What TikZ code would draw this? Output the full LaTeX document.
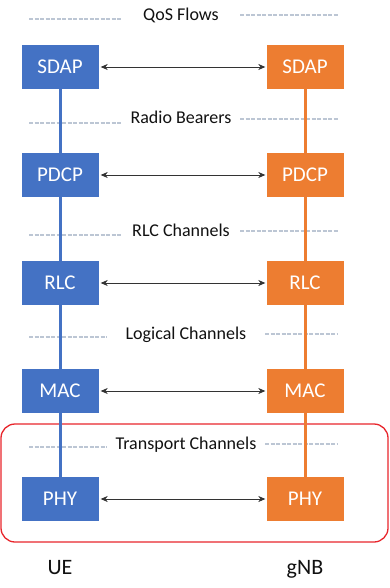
\documentclass[tikz,border=0pt]{standalone}
\usepackage{fontspec}
\setmainfont{Carlito}
\usetikzlibrary{arrows.meta}
\definecolor{ueblue}{HTML}{4472C4}
\definecolor{gnborange}{HTML}{ED7D31}
\definecolor{dashgray}{HTML}{BCC6D4}
\definecolor{redline}{HTML}{E8262C}
\definecolor{txt}{HTML}{111111}
\begin{document}
\begin{tikzpicture}[x=1pt,y=-1pt,
  layerbox/.style={minimum width=77pt,minimum height=44pt,inner sep=0pt,text=white,font=\fontsize{21}{21}\selectfont},
  uebox/.style={layerbox,fill=ueblue},
  gnbbox/.style={layerbox,fill=gnborange},
  chan/.style={anchor=base,inner sep=0pt,text=txt,font=\fontsize{18}{18}\selectfont},
  sidelabel/.style={anchor=base,inner sep=0pt,text=txt,font=\fontsize{22}{22}\selectfont},
  chandash/.style={draw=dashgray,line width=1.3pt,dash pattern=on 4pt off 1.5pt},
  stackline/.style={line width=3pt},
  peer/.style={draw=black!80,line width=0.6pt,{Stealth[length=7pt,width=6pt]}-{Stealth[length=7pt,width=6pt]}},
  redbox/.style={draw=redline,line width=1.3pt,rounded corners=14pt}
]
\useasboundingbox (0,0) rectangle (389,588);
\fill[white] (0,0) rectangle (389,588);

% channel labels
\node[chan] (qos) at (181,21) {QoS Flows};
\node[chan] (rb) at (181,124) {Radio Bearers};
\node[chan] (rlcch) at (181,236) {RLC Channels};
\node[chan] (logch) at (186,339) {Logical Channels};
\node[chan] (trch) at (186,449) {Transport Channels};

% dashed lines
\coordinate (q1) at (29,19);  \coordinate (q2) at (122,19);
\coordinate (q3) at (240,15); \coordinate (q4) at (338,15);
\coordinate (r1) at (29,123); \coordinate (r2) at (122,123);
\coordinate (r3) at (240,119); \coordinate (r4) at (338,119);
\coordinate (c1) at (29,235); \coordinate (c2) at (122,235);
\coordinate (c3) at (240,231); \coordinate (c4) at (338,231);
\coordinate (l1) at (29,337); \coordinate (l2) at (107,337);
\coordinate (l3) at (265,334); \coordinate (l4) at (338,334);
\coordinate (t1) at (29,447); \coordinate (t2) at (107,447);
\coordinate (t3) at (265,444); \coordinate (t4) at (338,444);
\foreach \a/\b in {q1/q2,q3/q4,r1/r2,r3/r4,c1/c2,c3/c4,l1/l2,l3/l4,t1/t2,t3/t4}
  \draw[chandash] (\a) -- (\b);

% red box
\draw[redbox] (1,424) rectangle (388,542);

% layer boxes
\node[uebox] (usdap) at (60,67) {SDAP};
\node[uebox] (updcp) at (60,175) {PDCP};
\node[uebox] (urlc) at (60,283) {RLC};
\node[uebox] (umac) at (60,391) {MAC};
\node[uebox] (uphy) at (60,499) {PHY};
\node[gnbbox] (gsdap) at (305,67) {SDAP};
\node[gnbbox] (gpdcp) at (305,175) {PDCP};
\node[gnbbox] (grlc) at (305,283) {RLC};
\node[gnbbox] (gmac) at (305,391) {MAC};
\node[gnbbox] (gphy) at (305,499) {PHY};

% stack lines
\draw[stackline,ueblue] (usdap.south) -- (updcp.north);
\draw[stackline,ueblue] (updcp.south) -- (urlc.north);
\draw[stackline,ueblue] (urlc.south) -- (umac.north);
\draw[stackline,ueblue] (umac.south) -- (uphy.north);
\draw[stackline,gnborange] (gsdap.south) -- (gpdcp.north);
\draw[stackline,gnborange] (gpdcp.south) -- (grlc.north);
\draw[stackline,gnborange] (grlc.south) -- (gmac.north);
\draw[stackline,gnborange] (gmac.south) -- (gphy.north);

% peer arrows
\foreach \a/\b in {usdap/gsdap,updcp/gpdcp,urlc/grlc,umac/gmac,uphy/gphy}
  \draw[peer,shorten <=2pt,shorten >=1pt] (\a.east) -- (\b.west);

% side labels
\node[sidelabel] (ue) at (60,574) {UE};
\node[sidelabel] (gnb) at (305,574) {gNB};
\end{tikzpicture}
\end{document}
